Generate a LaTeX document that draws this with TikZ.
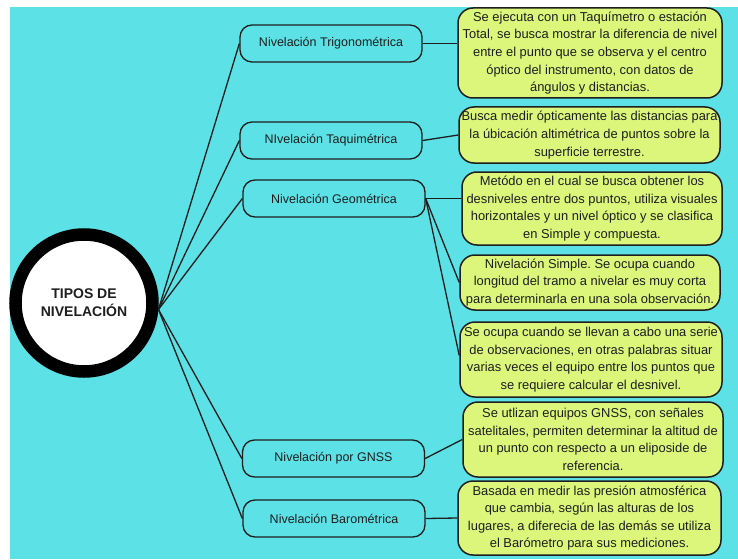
\documentclass[tikz,border=0pt]{standalone}
\usepackage{fontspec}
\setmainfont{Liberation Sans}
\frenchspacing
\definecolor{bgcyan}{HTML}{5CE1E6}
\definecolor{lime}{HTML}{DCF67C}
\definecolor{ink}{HTML}{1E1E1E}
\begin{document}
\begin{tikzpicture}[x=1pt,y=-1pt,
  conn/.style={draw=ink, line width=1.3pt},
  midbox/.style={draw=ink, line width=1.3pt, rounded corners=12pt, minimum width=182pt, minimum height=37pt, inner sep=0pt, font=\fontsize{12.5}{15}\selectfont, text=ink},
  notebox/.style={draw=ink, line width=1.5pt, fill=lime, rounded corners=15pt, inner sep=0pt, align=center, font=\fontsize{12.9}{17.6}\selectfont, text=ink},
]
\useasboundingbox (0,0) rectangle (738,559);
\fill[white] (0,0) rectangle (738,559);
\fill[bgcyan] (10,7) rectangle (738,559);

\node[circle, draw=black, line width=12.5pt, fill=white, minimum size=137pt, inner sep=0pt, align=center, font=\bfseries\fontsize{14}{18}\selectfont, text=ink] (circ) at (84,303) {TIPOS DE\\NIVELACIÓN};

\node[midbox] (trig) at (331,43.5) {Nivelación Trigonométrica};
\node[midbox] (taq) at (331,140.5) {NIvelación Taquimétrica};
\node[midbox] (geo) at (334,198.5) {Nivelación Geométrica};
\node[midbox] (gnss) at (333.5,458.5) {Nivelación por GNSS};
\node[midbox] (baro) at (334,518.5) {Nivelación Barométrica};

\node[notebox, minimum width=264pt, minimum height=90pt] (A) at (590,53) {Se ejecuta con un Taquímetro o estación\\Total, se busca mostrar la diferencia de nivel\\entre el punto que se observa y el centro\\óptico del instrumento, con datos de\\ángulos y distancias.};
\node[notebox, minimum width=261pt, minimum height=56pt] (B) at (589.5,135) {Busca medir ópticamente las distancias para\\la úbicación altimétrica de puntos sobre la\\superficie terrestre.};
\node[notebox, minimum width=260pt, minimum height=73pt] (C) at (592,208.5) {Metódo en el cual se busca obtener los\\desniveles entre dos puntos, utiliza visuales\\horizontales y un nivel óptico y se clasifica\\en Simple y compuesta.};
\node[notebox, minimum width=260pt, minimum height=55pt] (D) at (590,282.5) {Nivelación Simple. Se ocupa cuando\\longitud del tramo a nivelar es muy corta\\para determinarla en una sola observación.};
\node[notebox, minimum width=262pt, minimum height=75pt] (E) at (591,359.5) {Se ocupa cuando se llevan a cabo una serie\\de observaciones, en otras palabras situar\\varias veces el equipo entre los puntos que\\se requiere calcular el desnivel.};
\node[notebox, minimum width=260pt, minimum height=75pt] (F) at (593,439.5) {Se utlizan equipos GNSS, con señales\\satelitales, permiten determinar la altitud de\\un punto con respecto a un eliposide de\\referencia.};
\node[notebox, minimum width=263pt, minimum height=74pt] (G) at (589.5,518) {Basada en medir las presión atmosférica\\que cambia, según las alturas de los\\lugares, a diferecia de las demás se utiliza\\el Barómetro para sus mediciones.};

\draw[conn] (circ.-5) -- (trig.west);
\draw[conn] (circ.-5) -- (taq.west);
\draw[conn] (circ.-5) -- (geo.west);
\draw[conn] (circ.-5) -- (gnss.west);
\draw[conn] (circ.-5) -- (baro.west);

\draw[conn] (trig.east) -- (trig.east -| A.west);
\draw[conn] (taq.east) -- (B.west);
\draw[conn] (geo.east) -- (geo.east -| C.west);
\draw[conn] (geo.east) -- (D.west);
\draw[conn] (geo.east) -- ([yshift=4pt]E.west);
\draw[conn] (gnss.east) -- (F.west);
\draw[conn] (baro.east) -- (G.west);
\end{tikzpicture}
\end{document}
